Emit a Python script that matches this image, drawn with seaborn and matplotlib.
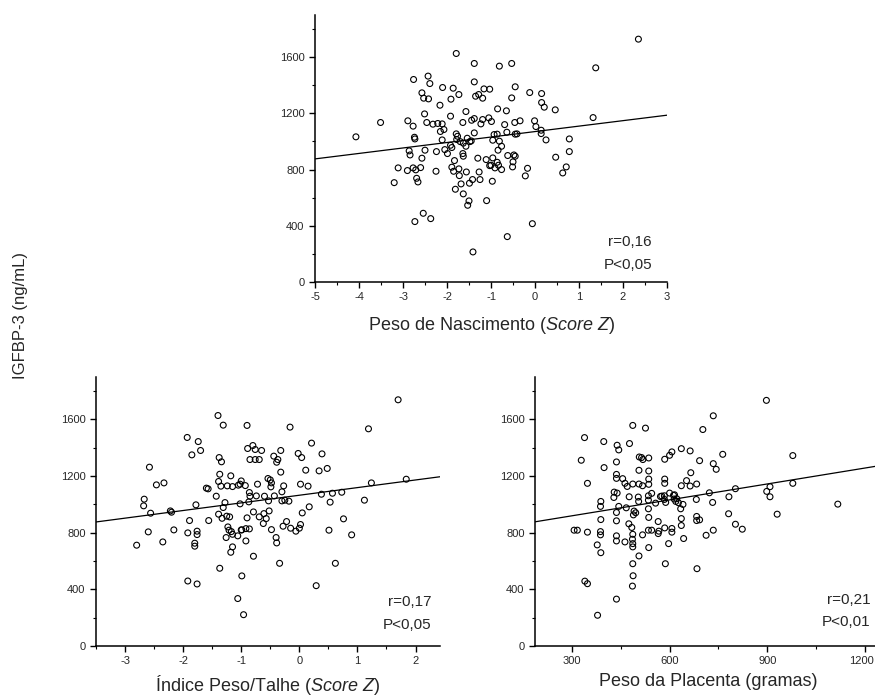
import numpy as np
import pandas as pd
import matplotlib
matplotlib.use("Agg")
import matplotlib.pyplot as plt
from matplotlib.ticker import MultipleLocator
from matplotlib.transforms import ScaledTranslation
import seaborn as sns

# ---------------- data ----------------
# Panel 1: Peso de Nascimento (Score Z) vs IGFBP-3
top_x = [-4.07, -3.51, 2.35, 1.38, 1.32, -1.79, -1.38, -0.81, -0.53, -2.76, -2.43, -2.39, -2.10, -1.86,
         -1.73, -2.57, -2.53, -2.42, -1.91, -2.16, -2.51, -1.92, -1.38, -1.16, -1.03, -1.35, -1.28, -1.19,
         -0.85, -0.65, -0.45, -0.53, -0.12, 0.15, 0.15, 0.21, 0.46, -1.57, -1.64, -1.44, -1.38, -1.23,
         -1.19, -1.05, -0.99, -0.69, -0.46, -0.34, -0.01, 0.02, 0.14, 0.14, 0.25, -2.89, -2.77, -2.46,
         -2.32, -2.21, -2.11, -2.15, -2.07, -2.11, -2.05, -2.74, -2.73, -2.86, -2.84, -2.50, -2.24, -2.57,
         -3.11, -2.90, -2.77, -2.71, -2.60, -3.20, -2.69, -2.66, -2.25, -2.54, -2.73, -2.37, -1.92, -1.89,
         -1.99, -1.79, -1.76, -1.78, -1.70, -1.63, -1.54, -1.48, -1.45, -1.57, -1.64, -1.83, -1.63, -1.89,
         -1.85, -1.73, -1.72, -1.56, -1.68, -1.81, -1.63, -1.50, -1.53, -1.49, -1.42, -1.27, -1.30, -1.25,
         -1.10, -0.97, -1.11, -1.03, -0.96, -1.00, -0.91, -0.86, -0.83, -0.76, -0.96, -0.93, -0.86, -0.81,
         -0.76, -0.84, -0.64, -0.45, -0.41, -0.62, -0.48, -0.45, -0.50, -0.51, -0.17, -0.22, 0.47, 0.71,
         0.63, 0.78, 0.78, -0.63, -0.06, -1.41, -1.38]
top_y = [1033, 1135, 1728, 1524, 1170, 1626, 1555, 1536, 1555, 1441, 1465, 1412, 1384, 1379,
         1334, 1346, 1308, 1303, 1301, 1258, 1196, 1180, 1424, 1374, 1372, 1322, 1334, 1308,
         1232, 1218, 1389, 1310, 1348, 1341, 1277, 1244, 1225, 1213, 1135, 1151, 1163, 1125,
         1156, 1168, 1142, 1120, 1135, 1147, 1147, 1106, 1080, 1056, 1011, 1147, 1109, 1135,
         1123, 1128, 1125, 1071, 1085, 1011, 942, 1030, 1018, 933, 904, 938, 928, 881,
         812, 793, 812, 798, 814, 707, 738, 712, 788, 489, 430, 451, 973, 957,
         914, 1054, 1037, 1014, 999, 988, 1023, 999, 1004, 966, 914, 864, 895, 817,
         788, 805, 757, 783, 698, 660, 627, 577, 546, 703, 729, 783, 881, 729,
         579, 717, 871, 828, 883, 831, 812, 852, 831, 800, 1009, 1049, 1052, 1002,
         966, 938, 1066, 1052, 1054, 900, 904, 895, 855, 819, 809, 755, 888, 819,
         776, 1018, 928, 323, 415, 214, 1061]
top_line_x = [-5, 3]
top_line_y = [876, 1187]

# Panel 2: Indice Peso/Talhe (Score Z) vs IGFBP-3
bl_x = [1.70, 1.19, -1.40, -1.31, -0.90, -0.16, -1.93, -1.74, -1.70, -1.85, -2.58, -2.46, -2.33, -2.67,
        -2.68, -2.56, -2.60, -2.80, -2.35, -2.22, -2.20, -2.16, -1.89, -1.92, -1.76, -1.76, -1.80, -1.80,
        -1.92, -1.76, -1.78, -1.56, -1.57, -1.43, -1.38, -1.34, -1.37, -1.18, -1.39, -1.35, -1.24, -1.15,
        -1.05, -1.02, -0.89, -0.80, -0.76, -0.85, -0.76, -0.69, -0.65, -0.93, -1.00, -0.72, -1.28, -1.31,
        -1.39, -1.33, -1.25, -1.20, -1.23, -1.21, -1.17, -1.15, -1.26, -1.18, -1.15, -1.06, -1.00, -1.02,
        -0.99, -0.92, -0.86, -0.87, -0.85, -0.86, -0.74, -0.90, -0.79, -0.92, -0.79, -1.37, -0.99, -1.06,
        -0.96, -0.69, -0.62, -0.57, -0.61, -0.52, -0.54, -0.50, -0.48, -0.53, -0.60, -0.49, -0.44, -0.39,
        -0.37, -0.32, -0.43, -0.32, -0.27, -0.30, -0.25, -0.18, -0.30, -0.48, -0.40, -0.39, -0.34, -0.28,
        -0.22, -0.15, -0.06, 0.00, 0.02, -0.02, 0.04, 0.02, 0.05, 0.11, 0.15, 0.17, 0.21, 0.39,
        0.34, 0.48, 0.38, 0.57, 0.73, 0.53, 0.51, 0.76, 0.90, 0.62, 0.29, 1.12, 1.24, 1.84, -1.60]
bl_y = [1739, 1534, 1628, 1560, 1558, 1546, 1473, 1444, 1381, 1350, 1263, 1138, 1152, 1037,
        990, 938, 806, 712, 735, 954, 945, 820, 886, 799, 811, 787, 726, 705,
        459, 438, 997, 886, 1110, 1058, 1331, 1301, 1213, 1202, 1162, 1129, 1131, 1126,
        1136, 1143, 1395, 1416, 1388, 1317, 1317, 1317, 1381, 1133, 1166, 1143, 1013, 978,
        931, 902, 917, 912, 841, 818, 808, 789, 766, 662, 700, 778, 820, 1004,
        820, 829, 827, 1018, 1058, 1084, 1060, 905, 947, 742, 634, 549, 495, 335,
        221, 912, 865, 900, 935, 954, 1183, 1173, 1152, 1025, 1058, 1124, 1341, 1298,
        1317, 1381, 1060, 1228, 1131, 1089, 1030, 1023, 1025, 822, 766, 728, 584, 846,
        879, 832, 811, 832, 858, 1360, 1331, 1143, 940, 1242, 1129, 983, 1433, 1357,
        1237, 1254, 1072, 1079, 1086, 1016, 818, 898, 785, 584, 426, 1030, 1152, 1178, 1115]
bl_line_x = [-3.5, 2.45]
bl_line_y = [876, 1197]

# Panel 3: Peso da Placenta (gramas) vs IGFBP-3
br_x = [897, 734, 702, 487, 526, 339, 398, 477, 439, 444, 329, 437, 507, 514,
        518, 536, 399, 506, 536, 348, 437, 437, 456, 463, 470, 487, 506, 517,
        536, 536, 430, 439, 429, 444, 437, 437, 467, 476, 504, 505, 491, 489,
        496, 475, 484, 487, 486, 487, 487, 463, 437, 437, 517, 536, 506, 487,
        488, 486, 437, 379, 340, 348, 307, 317, 348, 378, 389, 388, 388, 389,
        388, 389, 536, 535, 545, 557, 535, 535, 565, 545, 565, 535, 576, 572,
        584, 584, 588, 600, 612, 619, 585, 600, 607, 636, 585, 585, 615, 614,
        627, 622, 634, 641, 636, 636, 607, 607, 585, 567, 643, 597, 587, 636,
        652, 665, 663, 663, 692, 683, 682, 683, 683, 692, 684, 712, 722, 732,
        734, 734, 743, 763, 782, 781, 802, 802, 823, 898, 908, 908, 978, 978,
        930, 1116]
br_y = [1735, 1626, 1529, 1558, 1539, 1472, 1444, 1430, 1418, 1385, 1312, 1300, 1335, 1331,
        1317, 1328, 1260, 1241, 1236, 1149, 1212, 1184, 1182, 1149, 1127, 1144, 1144, 1132,
        1179, 1142, 1087, 1080, 1049, 986, 943, 884, 976, 1054, 1052, 1021, 953, 926,
        941, 863, 837, 789, 754, 723, 700, 735, 778, 742, 785, 695, 636, 581,
        496, 423, 331, 217, 458, 440, 818, 818, 804, 714, 659, 808, 785, 893,
        986, 1021, 908, 969, 1078, 1009, 1030, 1061, 879, 818, 794, 818, 1059, 1056,
        1061, 1035, 1014, 1080, 1064, 1021, 1319, 1347, 1371, 1394, 1149, 1179, 1068, 1038,
        1012, 1040, 969, 1000, 900, 851, 830, 804, 834, 811, 759, 723, 581, 1132,
        1168, 1224, 1130, 1378, 1309, 1144, 1035, 915, 886, 891, 546, 782, 1082, 1014,
        818, 1288, 1248, 1354, 1054, 934, 1111, 860, 825, 1092, 1125, 1054, 1149, 1345,
        931, 1002]
br_line_x = [187, 1250]
br_line_y = [877, 1276]

# stats labels
top_stats = ["r=0,16", "P<0,05"]
bl_stats = ["r=0,17", "P<0,05"]
br_stats = ["r=0,21", "P<0,01"]

# ---------------- style ----------------
sns.set_theme(style="ticks")
plt.rcParams["font.family"] = ["Liberation Sans", "DejaVu Sans"]
plt.rcParams["mathtext.fontset"] = "custom"
plt.rcParams["mathtext.rm"] = "Liberation Sans"
plt.rcParams["mathtext.it"] = "Liberation Sans:italic"
plt.rcParams["axes.unicode_minus"] = False

fig = plt.figure(figsize=(8.75, 6.97), dpi=100)

ax_top = fig.add_axes([0.36, 0.5954, 0.4023, 0.3831])
ax_bl = fig.add_axes([0.1097, 0.0732, 0.3931, 0.3859])
ax_br = fig.add_axes([0.6114, 0.0732, 0.3960, 0.3859])


def draw(ax, xs, ys, lx, ly, xlim, xmaj, xmin, xlabel, stats, sx, sy, labelpad=6):
    df = pd.DataFrame({"x": xs, "y": ys})
    sns.scatterplot(data=df, x="x", y="y", ax=ax, marker="o", s=18,
                    facecolors="none", edgecolors="black", linewidth=0.8)
    sns.lineplot(x=lx, y=ly, ax=ax, color="black", linewidth=0.9)
    ax.set_xlim(*xlim)
    ax.set_ylim(0, 1900)
    ax.yaxis.set_major_locator(MultipleLocator(400))
    ax.yaxis.set_minor_locator(MultipleLocator(200))
    ax.xaxis.set_major_locator(MultipleLocator(xmaj))
    ax.xaxis.set_minor_locator(MultipleLocator(xmin))
    ax.tick_params(which="major", direction="out", length=4, width=1, labelsize=8, color="black")
    ax.tick_params(which="minor", direction="out", length=2.5, width=0.8, color="black")
    for s in ["top", "right"]:
        ax.spines[s].set_visible(False)
    for s in ["left", "bottom"]:
        ax.spines[s].set_color("black")
        ax.spines[s].set_linewidth(1.1)
    ax.set_ylabel("")
    ax.set_xlabel(xlabel, fontsize=13, labelpad=labelpad)
    ax.text(sx, sy[0], stats[0], transform=ax.transAxes, ha="right", va="center", fontsize=11)
    ax.text(sx, sy[1], stats[1], transform=ax.transAxes, ha="right", va="center", fontsize=11)


draw(ax_top, top_x, top_y, top_line_x, top_line_y, (-5, 3), 1, 0.5,
     r"Peso de Nascimento ($\it{Score\ Z}$)", top_stats, 0.957, (0.15, 0.064), labelpad=9)
draw(ax_bl, bl_x, bl_y, bl_line_x, bl_line_y, (-3.5, 2.42), 1, 0.5,
     r"Índice Peso/Talhe ($\it{Score\ Z}$)", bl_stats, 0.974, (0.164, 0.078), labelpad=5)
draw(ax_br, br_x, br_y, br_line_x, br_line_y, (187, 1250), 300, 150,
     "Peso da Placenta (gramas)", br_stats, 0.968, (0.171, 0.089), labelpad=5)

# keep the last tick label of the right panel inside the figure
fig.canvas.draw()
for lab in ax_br.get_xticklabels():
    if lab.get_text() == "1200":
        lab.set_transform(lab.get_transform() + ScaledTranslation(-4 / 100, 0, fig.dpi_scale_trans))

fig.text(0.023, 0.548, "IGFBP-3 (ng/mL)", rotation=90, ha="center", va="center", fontsize=12)

fig.savefig("out.png", dpi=100)
